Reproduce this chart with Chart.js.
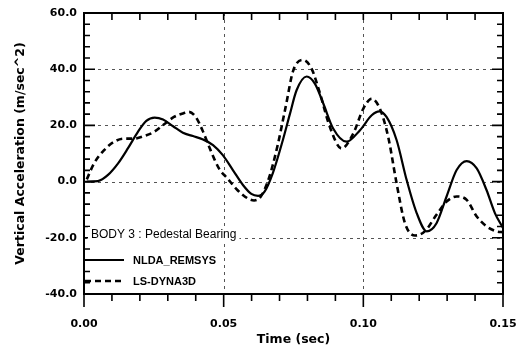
<!DOCTYPE html>
<html>
<head>
<meta charset="utf-8">
<script src="https://cdn.jsdelivr.net/npm/chart.js@4.4.0/dist/chart.umd.min.js"></script>
<style>
  html, body { margin: 0; padding: 0; background: #fff; }
  #wrap { width: 529px; height: 348px; }
</style>
</head>
<body>
<div id="wrap"><canvas id="chart" width="529" height="348"></canvas></div>
<script>
// data
const remsysTime = [0.001, 0.005, 0.0086, 0.0122, 0.0157, 0.0193, 0.0223, 0.0253, 0.0283, 0.0319, 0.0354, 0.039, 0.0426, 0.0462, 0.0497, 0.0533, 0.0569, 0.0599, 0.0623, 0.0647, 0.0676, 0.0712, 0.0737, 0.0761, 0.0797, 0.0827, 0.0857, 0.0892, 0.094, 0.0988, 0.103, 0.1057, 0.1083, 0.1119, 0.1155, 0.1191, 0.1227, 0.1262, 0.1298, 0.1334, 0.137, 0.1406, 0.1441, 0.1471, 0.15];
const remsysAcc  = [0, 0.2, 2.4, 6.5, 11.8, 17.7, 21.6, 22.8, 22.1, 19.7, 17.4, 16.2, 15, 13, 9.4, 4.1, -1.2, -4.4, -5.1, -3.5, 3, 14.8, 24, 32.5, 37.4, 34.8, 27.7, 18.9, 14.2, 18.3, 23.6, 25, 23, 14.8, 0.6, -11.2, -17.7, -14.8, -5.3, 4.1, 7.3, 4.7, -3, -11.2, -16.5];

const dynaTime = [0.001, 0.0036, 0.0072, 0.0108, 0.0143, 0.0179, 0.0215, 0.0251, 0.0287, 0.0322, 0.0358, 0.0376, 0.04, 0.0424, 0.0453, 0.0483, 0.0513, 0.0549, 0.0585, 0.0609, 0.0633, 0.0662, 0.0692, 0.0722, 0.0749, 0.0785, 0.0815, 0.0845, 0.088, 0.0922, 0.0964, 0.1, 0.103, 0.1059, 0.1089, 0.1119, 0.1149, 0.1185, 0.122, 0.1262, 0.1298, 0.1334, 0.137, 0.1406, 0.1441, 0.1477, 0.15];
const dynaAcc  = [0.8, 6.5, 11.2, 14.2, 15.3, 15.3, 16.2, 17.7, 20.4, 23, 24.4, 24.8, 23, 18.3, 11.2, 4.7, 1.2, -3, -5.9, -6.7, -5.3, 1.2, 12.4, 26.6, 39.5, 43.3, 40.1, 31.3, 19.5, 11.8, 17.1, 26, 29.5, 26, 15.9, -0.6, -14.8, -19.2, -17.7, -11.8, -7.1, -5.3, -6.5, -12.4, -15.9, -17.7, -18];

const xTicks = [0, 0.05, 0.10, 0.15];
const yTicks = [-40, -20, 0, 20, 40, 60];
const legendTitle = 'BODY 3 : Pedestal Bearing';

const pts = (t, a) => t.map((v, i) => ({ x: v, y: a[i] }));

// grid, frame, inside ticks and the boxed legend
const framePlugin = {
  id: 'frame',
  beforeDatasetsDraw(chart) {
    const { ctx, chartArea: a, scales: { x, y } } = chart;
    ctx.save();
    ctx.strokeStyle = '#555';
    ctx.lineWidth = 1;
    ctx.setLineDash([3, 4]);
    ctx.beginPath();
    xTicks.slice(1, -1).forEach(v => {
      const px = Math.round(x.getPixelForValue(v)) + 0.5;
      ctx.moveTo(px, a.top); ctx.lineTo(px, a.bottom);
    });
    yTicks.slice(1, -1).forEach(v => {
      const py = Math.round(y.getPixelForValue(v)) + 0.5;
      ctx.moveTo(a.left, py); ctx.lineTo(a.right, py);
    });
    ctx.stroke();
    ctx.restore();
  },
  afterDatasetsDraw(chart) {
    const { ctx, chartArea: a, scales: { x, y } } = chart;
    ctx.save();
    ctx.strokeStyle = '#000';
    ctx.lineWidth = 2;
    ctx.strokeRect(a.left, a.top, a.right - a.left, a.bottom - a.top);
    ctx.lineWidth = 1.6;
    ctx.beginPath();
    for (let i = 0; i <= 15; i++) {
      const px = x.getPixelForValue(i / 100);
      const big = i % 5 === 0;
      ctx.moveTo(px, a.bottom); ctx.lineTo(px, a.bottom + (big ? 13 : 7));
      ctx.moveTo(px, a.top); ctx.lineTo(px, a.top + 7);
    }
    for (let v = -40; v <= 60; v += 4) {
      const py = y.getPixelForValue(v);
      const len = v % 20 === 0 ? 11 : 6;
      ctx.moveTo(a.left, py); ctx.lineTo(a.left + len, py);
      ctx.moveTo(a.right, py); ctx.lineTo(a.right - len, py);
    }
    ctx.stroke();

    // legend, lower left inside the plot
    ctx.font = '12px "Liberation Sans"';
    ctx.textBaseline = 'middle';
    const tw = ctx.measureText(legendTitle).width;
    ctx.fillStyle = '#fff';
    ctx.fillRect(a.left + 4, 227, tw + 6, 15);
    ctx.fillStyle = '#000';
    ctx.fillText(legendTitle, a.left + 7, 234.5);

    ctx.font = 'bold 11px "Liberation Sans"';
    chart.data.datasets.forEach((ds, i) => {
      const ly = 260 + i * 21;
      ctx.lineWidth = ds.borderWidth;
      ctx.setLineDash(ds.borderDash || []);
      ctx.beginPath();
      ctx.moveTo(a.left + 1, ly); ctx.lineTo(a.left + 40, ly);
      ctx.stroke();
      ctx.fillText(ds.label, a.left + 49, ly + 0.5);
    });
    ctx.restore();
  }
};

new Chart(document.getElementById('chart'), {
  type: 'scatter',
  data: {
    datasets: [
      {
        label: 'NLDA_REMSYS',
        data: pts(remsysTime, remsysAcc),
        showLine: true,
        borderColor: '#000',
        borderWidth: 2.2,
        pointRadius: 0,
        cubicInterpolationMode: 'monotone'
      },
      {
        label: 'LS-DYNA3D',
        data: pts(dynaTime, dynaAcc),
        showLine: true,
        borderColor: '#000',
        borderWidth: 2.6,
        borderDash: [6, 4],
        pointRadius: 0,
        cubicInterpolationMode: 'monotone'
      }
    ]
  },
  options: {
    responsive: false,
    animation: false,
    devicePixelRatio: 1,
    layout: { autoPadding: false, padding: { top: 13, right: 26, bottom: 0, left: 0 } },
    plugins: { legend: { display: false }, tooltip: { enabled: false } },
    scales: {
      x: {
        type: 'linear',
        min: 0,
        max: 0.15,
        afterBuildTicks: s => { s.ticks = xTicks.map(v => ({ value: v })); },
        afterFit: s => { s.height = 54; s.paddingLeft = 0; s.paddingRight = 0; },
        grid: { display: false, drawTicks: false },
        border: { display: false },
        ticks: {
          padding: 24,
          color: '#000',
          font: { family: 'DejaVu Sans', weight: 'bold', size: 11 },
          callback: v => v.toFixed(2),
          maxRotation: 0
        },
        title: {
          display: true,
          text: 'Time (sec)',
          color: '#000',
          font: { family: 'DejaVu Sans', weight: 'bold', size: 12.5 },
          padding: { top: 0, bottom: 1 }
        }
      },
      y: {
        min: -40,
        max: 60,
        afterBuildTicks: s => { s.ticks = yTicks.map(v => ({ value: v })); },
        afterFit: s => { s.width = 84; s.paddingTop = 0; s.paddingBottom = 0; },
        grid: { display: false, drawTicks: false },
        border: { display: false },
        ticks: {
          padding: 7,
          color: '#000',
          font: { family: 'DejaVu Sans', weight: 'bold', size: 11 },
          callback: v => v.toFixed(1)
        },
        title: {
          display: true,
          text: 'Vertical Acceleration (m/sec^2)',
          color: '#000',
          font: { family: 'DejaVu Sans', weight: 'bold', size: 12.5 },
          padding: { top: 13, bottom: 0 }
        }
      }
    }
  },
  plugins: [framePlugin]
});
</script>
</body>
</html>
